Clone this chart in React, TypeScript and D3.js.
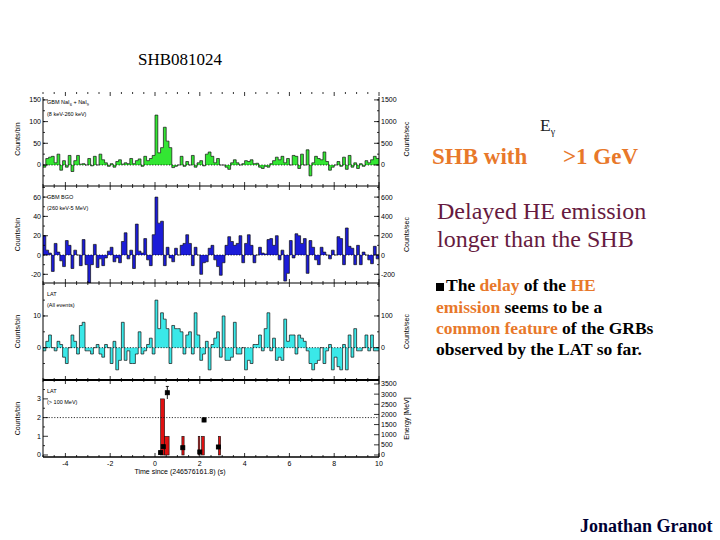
import React from 'react';
import * as d3 from 'd3';

// light-curve binning (seconds since trigger)
const timeStart = -5;
const timeEnd = 10;
const binWidth = 0.125;

// GBM NaI counts/bin
const naiCounts = [
  -5, 15, 18, 20, 5, 25, -12, 10, -5, 22,
  -15, 10, 22, 2, 3, 0, 15, -2, 20, 0,
  25, 12, 5, -3, 3, -5, 8, 12, 2, 5,
  3, 15, 3, 10, 14, -3, 20, 10, 15, 22,
  115, 28, 40, 87, 55, 40, -6, -3, 0, 20,
  -3, 8, 0, 22, -5, 5, 10, -2, 25, 30,
  20, 5, 15, 0, 0, -5, -10, 5, 12, 5,
  0, 3, 10, 8, 12, 3, 4, -5, -8, -3,
  -5, 3, 10, 18, 12, 20, 5, 15, 0, 22,
  20, -8, 25, 0, 35, -25, 5, 20, 15, 12,
  30, 8, -12, -5, 0, 8, -3, 18, -10, 22,
  -5, 5, -8, 3, -3, 10, 5, 12, 20, 15,
];

// GBM BGO counts/bin
const bgoCounts = [
  20, 5, 2, -17, 12, 3, -6, -12, 15, 10,
  -14, 5, 0, -11, 16, -10, -29, -10, 11, -13,
  -4, -11, -3, 4, 8, -7, -3, -8, 14, 23,
  -4, 5, -14, 32, 4, 2, 17, -5, -11, 21,
  60, 33, 35, -11, 8, -3, -7, 7, 0, 10,
  12, 21, 12, -11, 8, 0, -20, -8, -7, 7,
  10, -5, -12, -21, -8, 10, 19, 14, 10, 12,
  20, -8, 12, 21, 10, -8, 0, 8, 2, 1,
  16, 17, 10, 20, -5, 5, -27, -19, 15, -3,
  22, 20, 12, 17, -19, 15, 8, -5, -10, 8,
  3, 0, -4, 5, 0, 19, 17, -10, 28, 9,
  7, -10, 10, -10, 3, 0, -5, -9, 9, -4,
];

// LAT all events counts/bin
const latAllCounts = [
  -1, 2, 4, 0, -1, 2, 1, -3, -5, 0,
  4, 2, -2, 7, 8, -1, -1, -2, 0, 1,
  -2, -3, 1, 0, -5, 2, -7, -4, 8, -4,
  -1, -5, -5, -2, 5, -2, -1, 1, 3, -2,
  15, 6, 11, 9, 6, -5, 7, 6, 6, 5,
  -2, 4, 5, -2, 11, 4, -4, -2, 2, -7,
  1, 3, 5, -3, 10, -4, -4, -3, 8, -2,
  -2, 0, -7, -4, -5, 1, 1, 4, -1, 6,
  11, -1, 3, -4, -3, -4, 9, 2, 4, 4,
  -2, 4, 3, 2, -1, -5, -7, -5, -4, 0,
  -5, -1, 1, -7, -3, -6, -7, 1, -7, 4,
  -3, 6, -1, -1, 0, 4, -1, 4, -1, -1,
];

// LAT > 100 MeV bins
const heBinStart = [0.25, 0.43, 1.2, 1.93, 2.08, 2.83];
const heBinEnd = [0.43, 0.63, 1.3, 2.0, 2.2, 2.93];
const heCounts = [3, 1, 1, 1, 1, 1];

// individual LAT photons (MeV)
const photonTime = [0.25, 0.37, 0.55, 1.24, 2.0, 2.19, 2.83];
const photonEnergy = [120, 410, 3070, 360, 150, 1725, 395];
const photonErr = [40, 70, 310, 50, 40, 110, 60];

const timeTicks = [-4, -2, 0, 2, 4, 6, 8, 10];
const naiTicks = [0, 50, 100, 150];
const naiRateTicks = [0, 500, 1000, 1500];
const bgoTicks = [-20, 0, 20, 40, 60];
const bgoRateTicks = [-200, 0, 200, 400, 600];
const latTicks = [0, 10];
const latRateTicks = [0, 100];
const heTicks = [0, 1, 2, 3];
const energyTicks = [0, 500, 1000, 1500, 2000, 2500, 3000, 3500];

const sans = '"Liberation Sans", Arial, sans-serif';
const serif = '"Liberation Serif", "Times New Roman", serif';
const orange = '#e8782a';
const maroon = '#661a40';

const left = 43;
const right = 379;
const x = d3.scaleLinear().domain([timeStart, timeEnd]).range([left, right]);

const panels = [
  { top: 92, bottom: 186, domain: [-48.4, 168.2], counts: naiCounts, fill: '#33e633', ticks: naiTicks, rateTicks: naiRateTicks, minor: 25, l1: 'nai', l2: '(8 keV-260 keV)' },
  { top: 186, bottom: 283, domain: [-29, 71.5], counts: bgoCounts, fill: '#1c1cd8', ticks: bgoTicks, rateTicks: bgoRateTicks, minor: 10, l1: 'GBM BGO', l2: '(260 keV-5 MeV)' },
  { top: 283, bottom: 380, domain: [-10.2, 20.4], counts: latAllCounts, fill: '#3ae8e8', ticks: latTicks, rateTicks: latRateTicks, minor: 5, l1: 'LAT', l2: '(All events)' },
];

const he = { top: 380, bottom: 457, domain: [-0.107, 4.01] };

function Histogram({ counts, y, fill }: { counts: number[]; y: d3.ScaleLinear<number, number>; fill: string }) {
  const pts: [number, number][] = counts.map((c, i) => [timeStart + i * binWidth, c]);
  pts.push([timeStart + counts.length * binWidth, counts[counts.length - 1]]);
  const area = d3.area<[number, number]>()
    .x(d => x(d[0])).y0(y(0)).y1(d => y(d[1]))
    .curve(d3.curveStepAfter);
  const line = d3.line<[number, number]>()
    .x(d => x(d[0])).y(d => y(d[1]))
    .curve(d3.curveStepAfter);
  return (
    <g>
      <path d={area(pts) || ''} fill={fill} />
      <path d={line(pts) || ''} fill="none" stroke="#111" strokeWidth={0.7} />
    </g>
  );
}

function TimeTicks({ top, bottom }: { top: number; bottom: number }) {
  const all = d3.range(timeStart, timeEnd + 0.001, 0.5);
  return (
    <g stroke="#000" strokeWidth={0.8}>
      {all.map(t => {
        const len = timeTicks.includes(t) ? 4 : 2;
        return (
          <g key={t}>
            <line x1={x(t)} x2={x(t)} y1={top} y2={top + len} />
            <line x1={x(t)} x2={x(t)} y1={bottom} y2={bottom - len} />
          </g>
        );
      })}
    </g>
  );
}

function YAxes({ y, yr, ticks, rateTicks, minor }: any) {
  const [lo, hi] = y.domain();
  const minors = d3.range(Math.ceil(lo / minor) * minor, hi, minor);
  return (
    <g>
      <g stroke="#000" strokeWidth={0.8}>
        {minors.map((v: number) => (
          <g key={'m' + v}>
            <line x1={left} x2={left + 2} y1={y(v)} y2={y(v)} />
            <line x1={right} x2={right - 2} y1={y(v)} y2={y(v)} />
          </g>
        ))}
        {ticks.map((v: number) => (
          <line key={'l' + v} x1={left} x2={left + 5} y1={y(v)} y2={y(v)} />
        ))}
        {rateTicks.map((v: number) => (
          <line key={'r' + v} x1={right} x2={right - 5} y1={yr(v)} y2={yr(v)} />
        ))}
      </g>
      <g fontFamily={sans} fontSize={7} fill="#000">
        {ticks.map((v: number) => (
          <text key={'lt' + v} x={left - 2} y={y(v) + 2.5} textAnchor="end">{v}</text>
        ))}
        {rateTicks.map((v: number) => (
          <text key={'rt' + v} x={right + 2} y={yr(v) + 2.5}>{v}</text>
        ))}
      </g>
    </g>
  );
}

function VLabel({ cx, cy, text }: { cx: number; cy: number; text: string }) {
  return (
    <text transform={`translate(${cx},${cy}) rotate(-90)`} textAnchor="middle"
      fontFamily={sans} fontSize={7} fill="#000">{text}</text>
  );
}

export default function App() {
  const yHe = d3.scaleLinear().domain(he.domain).range([he.bottom, he.top]);
  const yE = d3.scaleLinear().domain([-98.6, 3697]).range([he.bottom, he.top]);

  return (
    <svg width={720} height={540} style={{ position: 'absolute', left: 0, top: 0, background: '#fff' }}>
      <rect width={720} height={540} fill="#fff" />

      <text x={138} y={65} fontFamily={serif} fontSize={17} fill="#000">SHB081024</text>

      {panels.map((p, i) => {
        const y = d3.scaleLinear().domain(p.domain).range([p.bottom, p.top]);
        const yr = d3.scaleLinear().domain([p.domain[0] * 10, p.domain[1] * 10]).range([p.bottom, p.top]);
        const mid = (p.top + p.bottom) / 2;
        return (
          <g key={i}>
            <clipPath id={`clip${i}`}>
              <rect x={left} y={p.top} width={right - left} height={p.bottom - p.top} />
            </clipPath>
            <g clipPath={`url(#clip${i})`}>
              <Histogram counts={p.counts} y={y} fill={p.fill} />
            </g>
            <line x1={left} x2={right} y1={y(0)} y2={y(0)} stroke="#000" strokeWidth={0.8} strokeDasharray="1.2,1.6" />
            <TimeTicks top={p.top} bottom={p.bottom} />
            <YAxes y={y} yr={yr} ticks={p.ticks} rateTicks={p.rateTicks} minor={p.minor} />
            <g fontFamily={sans} fontSize={5.5} fill="#000">
              {p.l1 === 'nai' ? (
                <text x={47} y={p.top + 12}>
                  GBM NaI<tspan fontSize={4} dy={1.5}>6</tspan><tspan dy={-1.5}> + NaI</tspan>
                  <tspan fontSize={4} dy={1.5}>9</tspan>
                </text>
              ) : (
                <text x={47} y={p.top + 13}>{p.l1}</text>
              )}
              <text x={47} y={p.top + 24}>{p.l2}</text>
            </g>
            <VLabel cx={19.5} cy={mid} text="Counts/bin" />
            <VLabel cx={408.5} cy={mid} text="Counts/sec" />
          </g>
        );
      })}

      {/* LAT > 100 MeV */}
      <g>
        {heCounts.map((c, i) => (
          <rect key={i} x={x(heBinStart[i])} y={yHe(c)} width={x(heBinEnd[i]) - x(heBinStart[i])}
            height={yHe(0) - yHe(c)} fill="#e01010" stroke="#111" strokeWidth={0.6} />
        ))}
        <line x1={left} x2={right} y1={yHe(2)} y2={yHe(2)} stroke="#000" strokeWidth={0.8} strokeDasharray="1.2,1.6" />
        {photonTime.map((t, i) => (
          <g key={i} stroke="#000" strokeWidth={0.9}>
            <line x1={x(t)} x2={x(t)} y1={yE(photonEnergy[i] - photonErr[i])} y2={yE(photonEnergy[i] + photonErr[i])} />
            <line x1={x(t) - 1.5} x2={x(t) + 1.5} y1={yE(photonEnergy[i] + photonErr[i])} y2={yE(photonEnergy[i] + photonErr[i])} />
            <rect x={x(t) - 2} y={yE(photonEnergy[i]) - 2} width={4} height={4} fill="#000" />
          </g>
        ))}
        <TimeTicks top={he.top} bottom={he.bottom} />
        <g stroke="#000" strokeWidth={0.8}>
          {d3.range(0, 4, 0.5).map(v => (
            <line key={v} x1={left} x2={left + (heTicks.includes(v) ? 5 : 2)} y1={yHe(v)} y2={yHe(v)} />
          ))}
          {energyTicks.map(v => (
            <line key={'e' + v} x1={right} x2={right - 5} y1={yE(v)} y2={yE(v)} />
          ))}
        </g>
        <g fontFamily={sans} fontSize={7} fill="#000">
          {heTicks.map(v => (
            <text key={v} x={left - 2} y={yHe(v) + 2.5} textAnchor="end">{v}</text>
          ))}
          {energyTicks.map(v => (
            <text key={'e' + v} x={right + 2} y={yE(v) + 2.5}>{v}</text>
          ))}
          {timeTicks.map(t => (
            <text key={'t' + t} x={x(t)} y={466} textAnchor="middle">{t}</text>
          ))}
          <text x={180} y={474} textAnchor="middle">Time since (246576161.8) (s)</text>
        </g>
        <g fontFamily={sans} fontSize={5.5} fill="#000">
          <text x={47} y={he.top + 13}>LAT</text>
          <text x={47} y={he.top + 24}>(&gt; 100 MeV)</text>
        </g>
        <VLabel cx={19.5} cy={(he.top + he.bottom) / 2} text="Counts/bin" />
        <VLabel cx={408.5} cy={(he.top + he.bottom) / 2} text="Energy [MeV]" />
      </g>

      {/* frame */}
      <g stroke="#000" fill="none">
        <line x1={left} x2={left} y1={97} y2={he.bottom} strokeWidth={1} />
        <line x1={right} x2={right} y1={97} y2={he.bottom} strokeWidth={1} />
        <line x1={left} x2={right} y1={186} y2={186} strokeWidth={1} />
        <line x1={left} x2={right} y1={283} y2={283} strokeWidth={1} />
        <line x1={left} x2={right} y1={380} y2={380} strokeWidth={2} />
        <line x1={left} x2={right} y1={he.bottom} y2={he.bottom} strokeWidth={1.5} />
      </g>

      {/* slide text */}
      <text x={540} y={131} fontFamily={serif} fontSize={17.5} fill="#222">
        E<tspan fontSize={10} dy={4}>γ</tspan>
      </text>
      <g fontFamily={serif} fontWeight="bold" fontSize={23} fill={orange}>
        <text x={432} y={164}>SHB with</text>
        <text x={563} y={164}>&gt;1 GeV</text>
      </g>
      <g fontFamily={serif} fontSize={24} fill={maroon}>
        <text x={437} y={219}>Delayed HE emission</text>
        <text x={437} y={247}>longer than the SHB</text>
      </g>
      <rect x={436} y={283} width={8} height={8} fill="#000" />
      <g fontFamily={serif} fontWeight="bold" fontSize={17.5} fill="#000">
        <text x={446} y={291}>The <tspan fill={orange}>delay</tspan> of the <tspan fill={orange}>HE</tspan></text>
        <text x={436} y={313}><tspan fill={orange}>emission</tspan> seems to be a</text>
        <text x={436} y={334}><tspan fill={orange}>common feature</tspan> of the GRBs</text>
        <text x={436} y={355}>observed by the LAT so far.</text>
      </g>
      <text x={580} y={532} fontFamily={serif} fontWeight="bold" fontSize={18} fill="#000033">Jonathan Granot</text>
    </svg>
  );
}
